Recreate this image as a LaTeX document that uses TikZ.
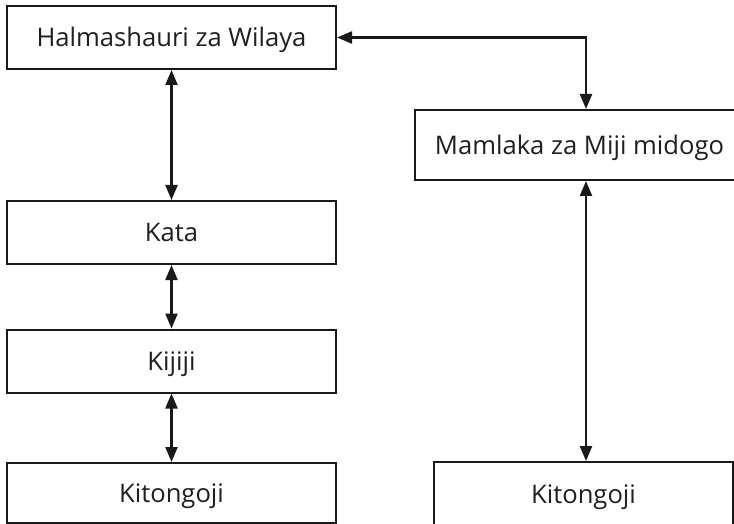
\documentclass[tikz,border=0pt]{standalone}
\usepackage{fontspec}
\setmainfont{Open Sans}
\usetikzlibrary{arrows.meta}
\begin{document}
\begin{tikzpicture}[x=1pt,y=-1pt,
  box/.style={draw=black!90, line width=2pt, inner sep=0pt, minimum width=329pt, minimum height=63pt,
    text height=18.2pt, text depth=0pt, font=\fontsize{25.6}{30}\selectfont, text=black!88},
  link/.style={draw=black!90, line width=2.2pt, {Triangle[length=15pt,width=12pt]}-{Triangle[length=15pt,width=12pt]}}]
\useasboundingbox (0,0) rectangle (734,524);
\clip (0,0) rectangle (734,524);
\node[box] (hw) at (171.5,37.5) {Halmashauri za Wilaya};
\node[box] (kata) at (171.5,232.5) {Kata};
\node[box] (kij) at (171.5,361) {Kijiji};
\node[box, minimum height=60pt] (kl) at (171.5,493) {Kitongoji};
\node[box, minimum height=70pt] (mm) at (579.5,145) {Mamlaka za Miji midogo};
\node[box, minimum width=299pt, minimum height=64pt] (kr) at (583.5,494) {Kitongoji};
\coordinate (ax) at (586,0);
\draw[link] (hw.south) -- (kata.north);
\draw[link] (kata.south) -- (kij.north);
\draw[link] (kij.south) -- (kl.north);
\draw[link] (hw.east) -- (hw.east -| ax) -- (mm.north -| ax);
\draw[link] (mm.south -| ax) -- (kr.north -| ax);
\end{tikzpicture}
\end{document}
